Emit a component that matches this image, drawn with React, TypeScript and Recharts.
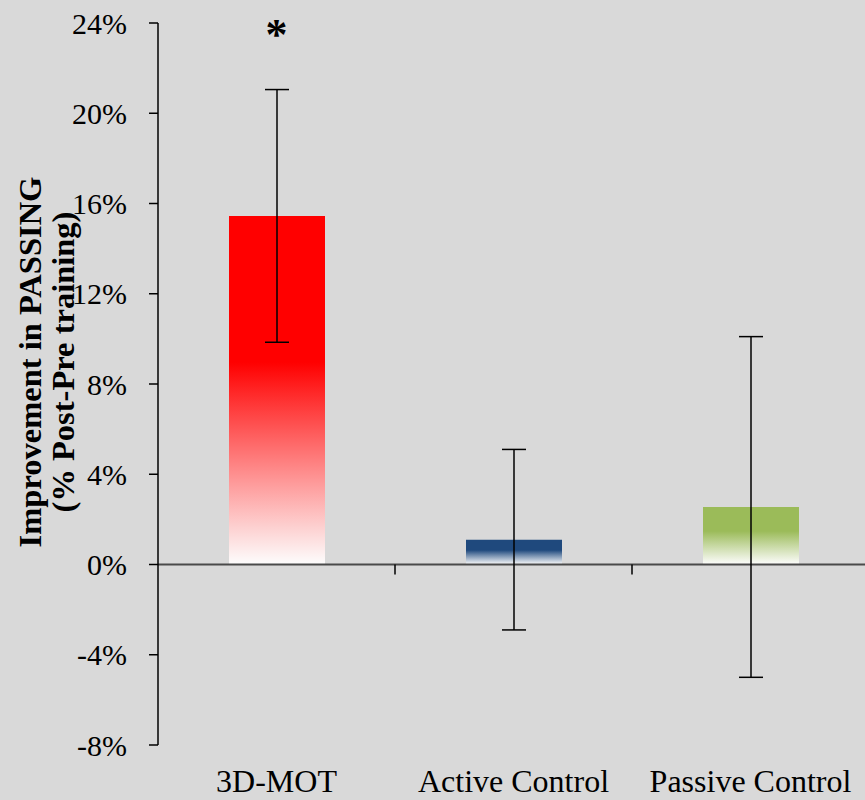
import React from 'react';
import { BarChart, Bar, XAxis, YAxis, ErrorBar, Cell, ReferenceLine, ReferenceDot, Label } from 'recharts';

const categories = ['3D-MOT', 'Active Control', 'Passive Control'];
const means = [15.45, 1.1, 2.55];
const errors = [5.6, 4.0, 7.55];
const colors = ['#ff0000', '#1f497d', '#9bbb59'];
const yTicks = [-8, -4, 0, 4, 8, 12, 16, 20, 24];
const sigMarks = ['*', '', ''];
const sigLevel = 24;

const data = categories.map((c, i) => ({ name: c, value: means[i], err: errors[i] }));

const FONT = '"Liberation Serif", "Times New Roman", serif';

const ZeroAxis = (props: any) => {
  const { x1, x2, y1, y2 } = props;
  const n = categories.length;
  return (
    <g>
      <line x1={x1} y1={y1} x2={x2} y2={y2} stroke="#4a4a4a" strokeWidth={2} />
      {Array.from({ length: n }, (_, k) => k + 1).map((k) => {
        const x = x1 + ((x2 - x1) * k) / n;
        return <line key={k} x1={x} x2={x} y1={y1} y2={y1 + 10} stroke="#000" strokeWidth={1.5} />;
      })}
    </g>
  );
};

const YLabel = (props: any) => {
  const vb = props.viewBox || { x: 0, y: 0, width: 0, height: 0 };
  const cy = vb.y + vb.height / 2 - 22;
  const l1x = vb.x + 41;
  const l2x = vb.x + 74;
  return (
    <g fontFamily={FONT} fontWeight="bold" fontSize={32.5} fill="#000">
      <text x={l1x} y={cy} textAnchor="middle" transform={`rotate(-90, ${l1x}, ${cy})`}>
        Improvement in PASSING
      </text>
      <text x={l2x} y={cy} textAnchor="middle" transform={`rotate(-90, ${l2x}, ${cy})`}>
        (% Post-Pre training)
      </text>
    </g>
  );
};

const SigMark = (mark: string) => (props: any) => {
  const { cx, cy } = props;
  return (
    <text x={cx} y={cy + 26} textAnchor="middle" fontFamily={FONT} fontWeight="bold" fontSize={44} fill="#000">
      {mark}
    </text>
  );
};

export default function App() {
  return (
    <div style={{ position: 'absolute', left: 0, top: 0, width: 865, height: 800, overflow: 'hidden', background: '#d9d9d9' }}>
      <BarChart width={870} height={800} data={data} margin={{ top: 23, right: 1, bottom: 0, left: 0 }}>
        <defs>
          {colors.map((c, i) => (
            <linearGradient key={i} id={`grad${i}`} x1="0" y1="0" x2="0" y2="1">
              <stop offset="0" stopColor={c} />
              <stop offset="0.42" stopColor={c} />
              <stop offset="1" stopColor="#ffffff" stopOpacity={0.95} />
            </linearGradient>
          ))}
        </defs>
        <XAxis
          dataKey="name"
          height={55}
          axisLine={false}
          tickLine={false}
          tickSize={8}
          tickMargin={16}
          tick={{ fontFamily: FONT, fontSize: 32, fill: '#000' }}
          interval={0}
        />
        <YAxis
          domain={[-8, 24]}
          ticks={yTicks}
          width={158}
          tickFormatter={(v: number) => `${v}%`}
          tickSize={9}
          tickMargin={22}
          axisLine={{ stroke: '#000', strokeWidth: 1.5 }}
          tickLine={{ stroke: '#000', strokeWidth: 1.5 }}
          tick={{ fontFamily: FONT, fontSize: 30, fill: '#000' }}
          interval={0}
        >
          <Label content={YLabel} />
        </YAxis>
        <ReferenceLine y={0} shape={ZeroAxis} />
        <Bar dataKey="value" barSize={96} isAnimationActive={false}>
          {data.map((d, i) => (
            <Cell key={d.name} fill={`url(#grad${i})`} />
          ))}
          <ErrorBar dataKey="err" width={12} stroke="#000" strokeWidth={1.5} isAnimationActive={false} />
        </Bar>
        {categories.map((c, i) =>
          sigMarks[i] ? (
            <ReferenceDot key={c} x={c} y={sigLevel} r={0} shape={SigMark(sigMarks[i])} />
          ) : null
        )}
      </BarChart>
    </div>
  );
}
